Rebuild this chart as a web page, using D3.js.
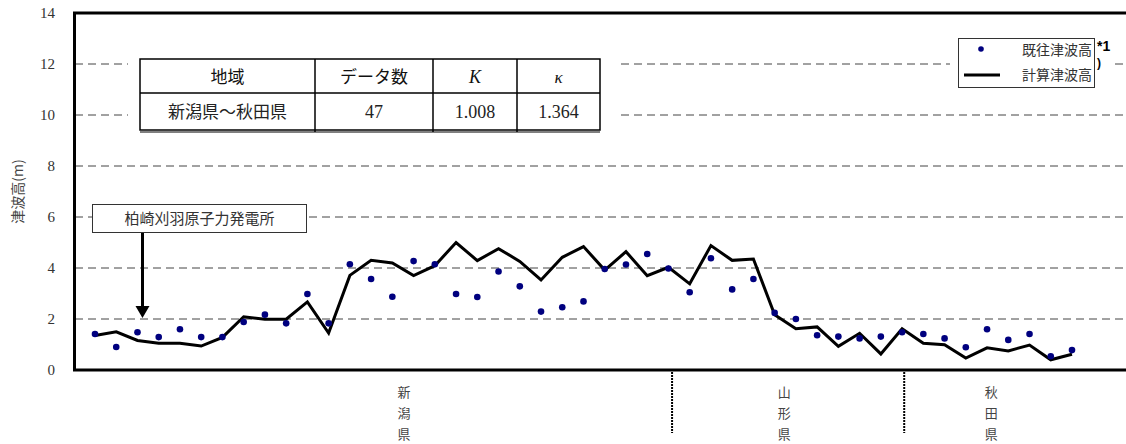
<!DOCTYPE html>
<html><head><meta charset="utf-8">
<script src="https://cdn.jsdelivr.net/npm/d3@7"></script>
<style>body{margin:0;background:#fff}svg{display:block}</style>
</head><body>
<svg id="c" width="1126" height="444"></svg>
<script>
const observed = [1.41,0.90,1.48,1.29,1.60,1.29,1.29,1.88,2.17,1.83,2.98,1.83,4.15,3.57,2.87,4.27,4.15,2.98,2.86,3.86,3.28,2.29,2.46,2.69,3.96,4.14,4.55,3.98,3.05,4.38,3.16,3.57,2.24,2.00,1.36,1.31,1.24,1.31,1.48,1.41,1.24,0.89,1.60,1.18,1.41,0.54,0.78];
const computed = [1.35,1.50,1.16,1.05,1.05,0.94,1.28,2.09,1.99,1.99,2.67,1.45,3.71,4.30,4.20,3.70,4.09,5.00,4.29,4.76,4.26,3.53,4.42,4.84,3.92,4.64,3.70,4.03,3.38,4.88,4.30,4.35,2.17,1.62,1.69,0.93,1.44,0.63,1.62,1.05,0.99,0.47,0.87,0.75,0.98,0.40,0.62];
const points = observed.map((d,i)=>i+1);
const yTicks = [0,2,4,6,8,10,12,14];
const prefectures = ["新潟県","山形県","秋田県"];
const prefCenters = [15.55, 33.45, 43.2];   // in point units
const prefBounds = [28.17, 39.1];           // dividers in point units
const tableHead = ["地域","データ数","K","κ"];
const tableRow = ["新潟県〜秋田県","47","1.008","1.364"];
const legendLabels = ["既往津波高","計算津波高"];
const annotation = "柏崎刈羽原子力発電所";
const annotationPoint = 3;

const svg = d3.select("#c");
const x = d3.scaleLinear().domain([1,47]).range([95,1072]);
const y = d3.scaleLinear().domain([0,14]).range([370,13]);
const JP = "'Noto Sans CJK JP','Noto Sans',sans-serif";
const SERIF = "'Liberation Serif','Times New Roman',serif";

// gridlines
svg.append("g").selectAll("line").data(yTicks.filter(t=>t>0&&t<14)).join("line")
  .attr("x1",75).attr("x2",1126).attr("y1",d=>y(d)).attr("y2",d=>y(d))
  .attr("stroke","#444").attr("stroke-width",1).attr("stroke-dasharray","8,5");

// y tick labels
svg.append("g").selectAll("text").data(yTicks).join("text")
  .attr("x",55).attr("y",d=>y(d)).attr("dy","0.35em").attr("text-anchor","end")
  .attr("font-family",SERIF).attr("font-size",15).attr("fill","#333").text(d=>d);

// y axis title
svg.append("text").attr("transform","translate(18,"+y(7.0)+") rotate(-90)")
  .attr("text-anchor","middle").attr("dy","0.35em").attr("font-family",JP).attr("font-size",14).attr("fill","#444")
  .text("津波高(m)");

// frame
svg.append("path").attr("d",`M1126,${y(14)} H74.5 V${y(0)} H1126`)
  .attr("fill","none").attr("stroke","#000").attr("stroke-width",3);

// prefecture dividers
svg.append("g").selectAll("line").data(prefBounds).join("line")
  .attr("x1",d=>x(d)).attr("x2",d=>x(d)).attr("y1",372).attr("y2",433)
  .attr("stroke","#000").attr("stroke-width",2).attr("stroke-dasharray","2,1");

// prefecture labels (vertical)
const pl = svg.append("g").selectAll("text").data(prefectures).join("text")
  .attr("font-family",JP).attr("font-size",13).attr("fill","#444").attr("text-anchor","middle");
pl.each(function(d,i){
  const t=d3.select(this);
  [...d].forEach((ch,j)=>t.append("tspan").attr("x",x(prefCenters[i])).attr("y",397+j*21).text(ch));
});

// computed line
svg.append("path").datum(computed)
  .attr("d",d3.line().x((d,i)=>x(points[i])).y(d=>y(d)))
  .attr("fill","none").attr("stroke","#000").attr("stroke-width",3).attr("stroke-linejoin","miter");

// observed dots
svg.append("g").selectAll("circle").data(observed).join("circle")
  .attr("cx",(d,i)=>x(points[i])).attr("cy",d=>y(d)).attr("r",3.3).attr("fill","#00007f");

// table
const tg = svg.append("g");
tg.append("rect").attr("x",128).attr("y",50).attr("width",490).attr("height",88).attr("fill","#fff");
const colX = [140,315,433,517,600];
tg.append("rect").attr("x",140).attr("y",59).attr("width",460).attr("height",71)
  .attr("fill","#fff").attr("stroke","#000").attr("stroke-width",1.5);
tg.append("line").attr("x1",140).attr("x2",600).attr("y1",93).attr("y2",93).attr("stroke","#000").attr("stroke-width",1.5);
tg.append("line").attr("x1",140).attr("x2",600).attr("y1",132).attr("y2",132).attr("stroke","#000").attr("stroke-width",1);
tg.selectAll("line.c").data(colX.slice(1,4)).join("line").attr("class","c")
  .attr("x1",d=>d).attr("x2",d=>d).attr("y1",59).attr("y2",132).attr("stroke","#000").attr("stroke-width",1.5);
tableHead.forEach((h,i)=>{
  const isLatin = (h==="K"||h==="κ");
  tg.append("text").attr("x",(colX[i]+colX[i+1])/2).attr("y",77).attr("dy","0.35em")
    .attr("text-anchor","middle").attr("font-family",isLatin?SERIF:JP)
    .attr("font-style",isLatin?"italic":"normal")
    .attr("font-size",h==="κ"?17:(isLatin?18:17)).attr("fill","#111").text(h);
});
tableRow.forEach((h,i)=>{
  tg.append("text").attr("x",(colX[i]+colX[i+1])/2).attr("y",112).attr("dy","0.35em")
    .attr("text-anchor","middle").attr("font-family",i===0?JP:SERIF)
    .attr("font-size",i===0?17:18).attr("fill","#222").text(h);
});

// legend
const lg = svg.append("g");
lg.append("rect").attr("x",950).attr("y",30).attr("width",162).attr("height",64).attr("fill","#fff");
lg.append("rect").attr("x",958.5).attr("y",38.5).attr("width",136).attr("height",49)
  .attr("fill","#fff").attr("stroke","#333").attr("stroke-width",1);
lg.append("circle").attr("cx",981).attr("cy",49).attr("r",2.8).attr("fill","#00007f");
lg.append("line").attr("x1",964).attr("x2",1000).attr("y1",75).attr("y2",75).attr("stroke","#000").attr("stroke-width",3);
legendLabels.forEach((l,i)=>{
  lg.append("text").attr("x",1092).attr("y",50+i*25).attr("dy","0.35em").attr("text-anchor","end")
    .attr("font-family",JP).attr("font-size",14).attr("fill","#333").text(l);
});
lg.append("text").attr("x",1097).attr("y",46).attr("dy","0.35em")
  .attr("font-family","'Liberation Sans',Arial,sans-serif").attr("font-weight","bold").attr("font-size",14).attr("fill","#000").text("*1");
lg.append("text").attr("x",1097).attr("y",63).attr("dy","0.35em")
  .attr("font-family","'Liberation Sans',Arial,sans-serif").attr("font-weight","bold").attr("font-size",12).attr("fill","#000").text(")");

// annotation
const ag = svg.append("g");
ag.append("rect").attr("x",92.5).attr("y",204.5).attr("width",214).attr("height",28)
  .attr("fill","#fff").attr("stroke","#333").attr("stroke-width",1);
ag.append("text").attr("x",199.5).attr("y",218.5).attr("dy","0.35em").attr("text-anchor","middle")
  .attr("font-family",JP).attr("font-size",15).attr("fill","#333").text(annotation);
const ax = x(annotationPoint)+5;
ag.append("line").attr("x1",ax).attr("x2",ax).attr("y1",233).attr("y2",308).attr("stroke","#000").attr("stroke-width",3);
ag.append("path").attr("d",`M${ax-7},306 L${ax+7},306 L${ax},318 Z`).attr("fill","#000");
</script>
</body></html>
